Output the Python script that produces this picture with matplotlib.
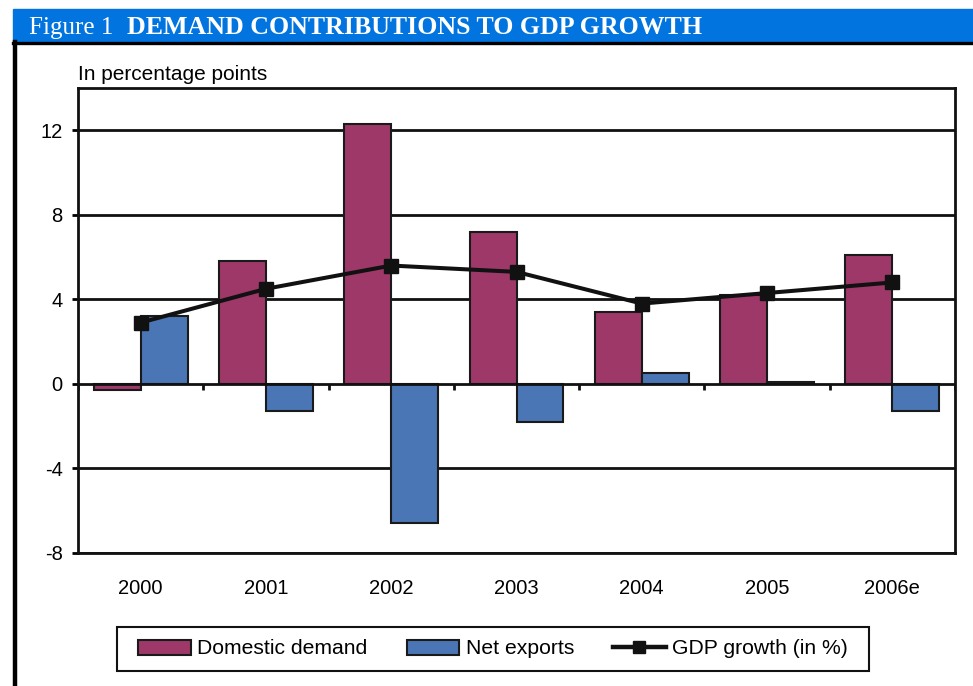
import numpy as np
import matplotlib.pyplot as plt
import matplotlib.patches as mpatches
from matplotlib.lines import Line2D

years = ["2000", "2001", "2002", "2003", "2004", "2005", "2006e"]
domestic_demand = [-0.3, 5.8, 12.3, 7.2, 3.4, 4.2, 6.1]
net_exports = [3.2, -1.3, -6.6, -1.8, 0.5, 0.1, -1.3]
gdp_growth = [2.9, 4.5, 5.6, 5.3, 3.8, 4.3, 4.8]
y_ticks = [-8, -4, 0, 4, 8, 12]

DD_COLOR = "#9e3868"
NE_COLOR = "#4a76b5"
EDGE = "#1a1a1a"
BANNER = "#0274e0"

plt.rcParams["font.family"] = ["Liberation Sans", "DejaVu Sans"]

fig = plt.figure(figsize=(9.73, 6.86), dpi=100)
W, H = 973, 686

def fx(px):
    return px / W

def fy(py):
    return 1 - py / H

# banner strip with the figure title
fig.patches.append(mpatches.Rectangle((fx(13), fy(41)), 1, 32 / H,
                                      transform=fig.transFigure, color=BANNER, zorder=0))
fig.add_artist(Line2D([fx(13), 1], [fy(42.5)] * 2, transform=fig.transFigure,
                      color="black", lw=2.4))
fig.add_artist(Line2D([fx(15)] * 2, [fy(42), 0], transform=fig.transFigure,
                      color="black", lw=3.2))
fig.text(fx(29), fy(34), "Figure 1", color="white", fontsize=18,
         family="Liberation Serif", va="baseline", ha="left")
fig.text(fx(127), fy(34), "DEMAND CONTRIBUTIONS TO GDP GROWTH", color="white",
         fontsize=18.6, family="Liberation Serif", weight="bold", va="baseline", ha="left")

ax = fig.add_axes([fx(78), fy(553), (955 - 78) / W, (553 - 88) / H])
x = np.arange(len(years))
bw = 0.375

ax.bar(x - bw / 2, domestic_demand, bw, color=DD_COLOR, edgecolor=EDGE, lw=1.5, zorder=3,
       label="Domestic demand")
ax.bar(x + bw / 2, net_exports, bw, color=NE_COLOR, edgecolor=EDGE, lw=1.5, zorder=3,
       label="Net exports")
ax.plot(x, gdp_growth, color="#111111", lw=2.9, marker="s", ms=9.5, zorder=4,
        label="GDP growth (in %)")

ax.set_xlim(-0.5, len(years) - 0.5)
ax.set_ylim(-8, 14)
ax.set_yticks(y_ticks)
ax.set_yticklabels([str(v) for v in y_ticks], fontsize=14.5)
ax.tick_params(axis="y", direction="out", length=4, width=2, pad=7)
ax.set_xticks(x)
ax.set_xticklabels(years, fontsize=14.5)
ax.tick_params(axis="x", length=0, pad=19)

for v in y_ticks:
    if v != 0:
        ax.axhline(v, color="#111111", lw=2, zorder=1)
ax.axhline(0, color="#111111", lw=2, zorder=5)
ax.vlines(np.arange(len(years) + 1) - 0.5, -0.3, 0, color="#111111", lw=2, zorder=5)

for s in ax.spines.values():
    s.set_linewidth(2)
    s.set_color("#111111")

fig.text(fx(78), fy(80), "In percentage points", fontsize=15, va="baseline", ha="left")

handles = [
    mpatches.Patch(facecolor=DD_COLOR, edgecolor=EDGE, lw=1.5, label="Domestic demand"),
    mpatches.Patch(facecolor=NE_COLOR, edgecolor=EDGE, lw=1.5, label="Net exports"),
    Line2D([0], [0], color="#111111", lw=3.2, marker="s", ms=9, label="GDP growth (in %)"),
]
leg = fig.legend(handles=handles, loc="center", ncol=3,
                 bbox_to_anchor=(fx((117 + 869) / 2), fy(649)),
                 fontsize=15.2, frameon=False,
                 handlelength=2.5, handleheight=0.72, handletextpad=0.3,
                 columnspacing=1.85, borderpad=0.2)

# legend box drawn separately so the side margins can be wider than the top/bottom ones
fig.patches.append(mpatches.Rectangle((fx(117), fy(671)), (869 - 117) / W, (671 - 627) / H,
                                      transform=fig.transFigure, facecolor="none",
                                      edgecolor="#111111", lw=1.5, zorder=5))

fig.savefig("out.png", dpi=100)
